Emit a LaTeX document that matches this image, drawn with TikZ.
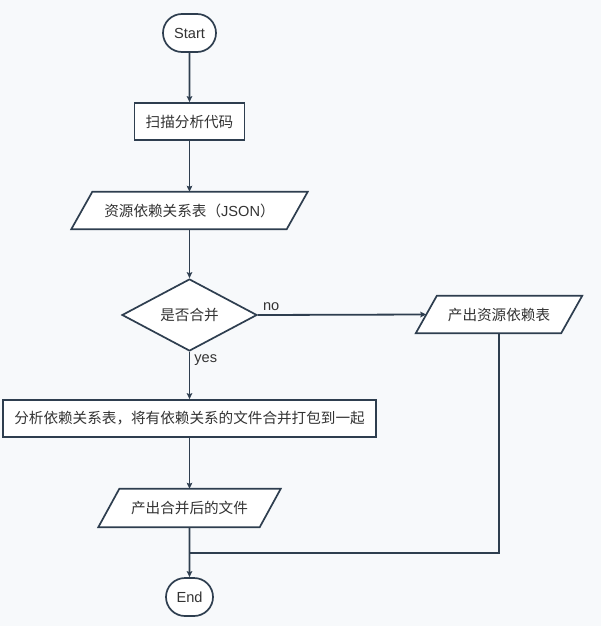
\documentclass[tikz,border=0pt]{standalone}
\usepackage{fontspec}
\setmainfont{Liberation Sans}
\newfontfamily\cjk{Noto Sans CJK SC}
\usetikzlibrary{shapes.geometric,shapes.misc,arrows.meta,calc}
\definecolor{bgc}{HTML}{F7F9FB}
\definecolor{edgec}{HTML}{2E3E4F}
\definecolor{txtc}{HTML}{333333}
\tikzset{
  box/.style={draw=edgec, line width=1.7pt, fill=white, inner sep=0pt, text=txtc, font=\fontsize{14.6}{17}\selectfont},
  term/.style={box, rounded rectangle, minimum width=53pt, minimum height=38pt},
  proc/.style={box, rectangle, minimum height=37pt},
  decision/.style={box, diamond, minimum width=135pt, minimum height=68pt},
  dataframe/.style={draw=none, fill=none, inner sep=0pt, text=txtc, font=\fontsize{14.6}{17}\selectfont, minimum height=37pt},
  para/.style={draw=edgec, line width=1.7pt, fill=white},
  conn/.style={draw=edgec, line width=1.8pt},
  arrow/.style={conn, -{Stealth[length=6pt,width=5.5pt,inset=1pt]}},
  lbl/.style={text=txtc, font=\fontsize{14.6}{17}\selectfont, inner sep=0pt}
}
\begin{document}
\begin{tikzpicture}[x=1pt,y=-1pt]
\fill[bgc] (0,0) rectangle (601,626);
\useasboundingbox (0,0) rectangle (601,626);

\node[term] (start) at (189.5,33) {Start};
\node[proc, minimum width=110pt] (scan) at (189.5,121.5) {\cjk 扫描分析代码};

\node[dataframe, minimum width=236pt] (json) at (189.5,210.5) {};
\draw[para] ($(json.north west)+(21,0)$) -- (json.north east) -- ($(json.south east)-(21,0)$) -- (json.south west) -- cycle;
\node[lbl] at (json) {{\cjk 资源依赖关系表（}JSON{\cjk ）}};

\node[decision] (decide) at (189.5,315) {\cjk 是否合并};

\node[dataframe, minimum width=166pt] (out2) at (499,314.5) {};
\draw[para] ($(out2.north west)+(21,0)$) -- (out2.north east) -- ($(out2.south east)-(21,0)$) -- (out2.south west) -- cycle;
\node[lbl] at (out2) {\cjk 产出资源依赖表};

\node[proc, minimum width=373pt] (merge) at (189.5,418.5) {\cjk 分析依赖关系表，将有依赖关系的文件合并打包到一起};

\node[dataframe, minimum width=182pt, minimum height=38pt] (out1) at (189.5,508) {};
\draw[para] ($(out1.north west)+(21,0)$) -- (out1.north east) -- ($(out1.south east)-(21,0)$) -- (out1.south west) -- cycle;
\node[lbl] at (out1) {\cjk 产出合并后的文件};

\node[term, minimum width=47pt] (end) at (189.5,597) {End};

\coordinate (joint) at (189.5,553);

\draw[arrow] (start) -- (scan);
\draw[arrow] (scan) -- (json.north);
\draw[arrow] (json.south) -- (decide);
\draw[arrow] (decide) -- node[lbl, pos=0.18, right=4pt] {yes} (merge);
\draw[arrow] (decide.east) -- ($(out2.west)+(10.5,0)$);
\node[lbl, anchor=south west] (nolbl) at ($(decide.east)+(5,-4)$) {no};
\draw[arrow] (merge) -- (out1.north);
\draw[arrow] (out1.south) -- (end);
\draw[conn] (out2.south) |- (joint);
\end{tikzpicture}
\end{document}
